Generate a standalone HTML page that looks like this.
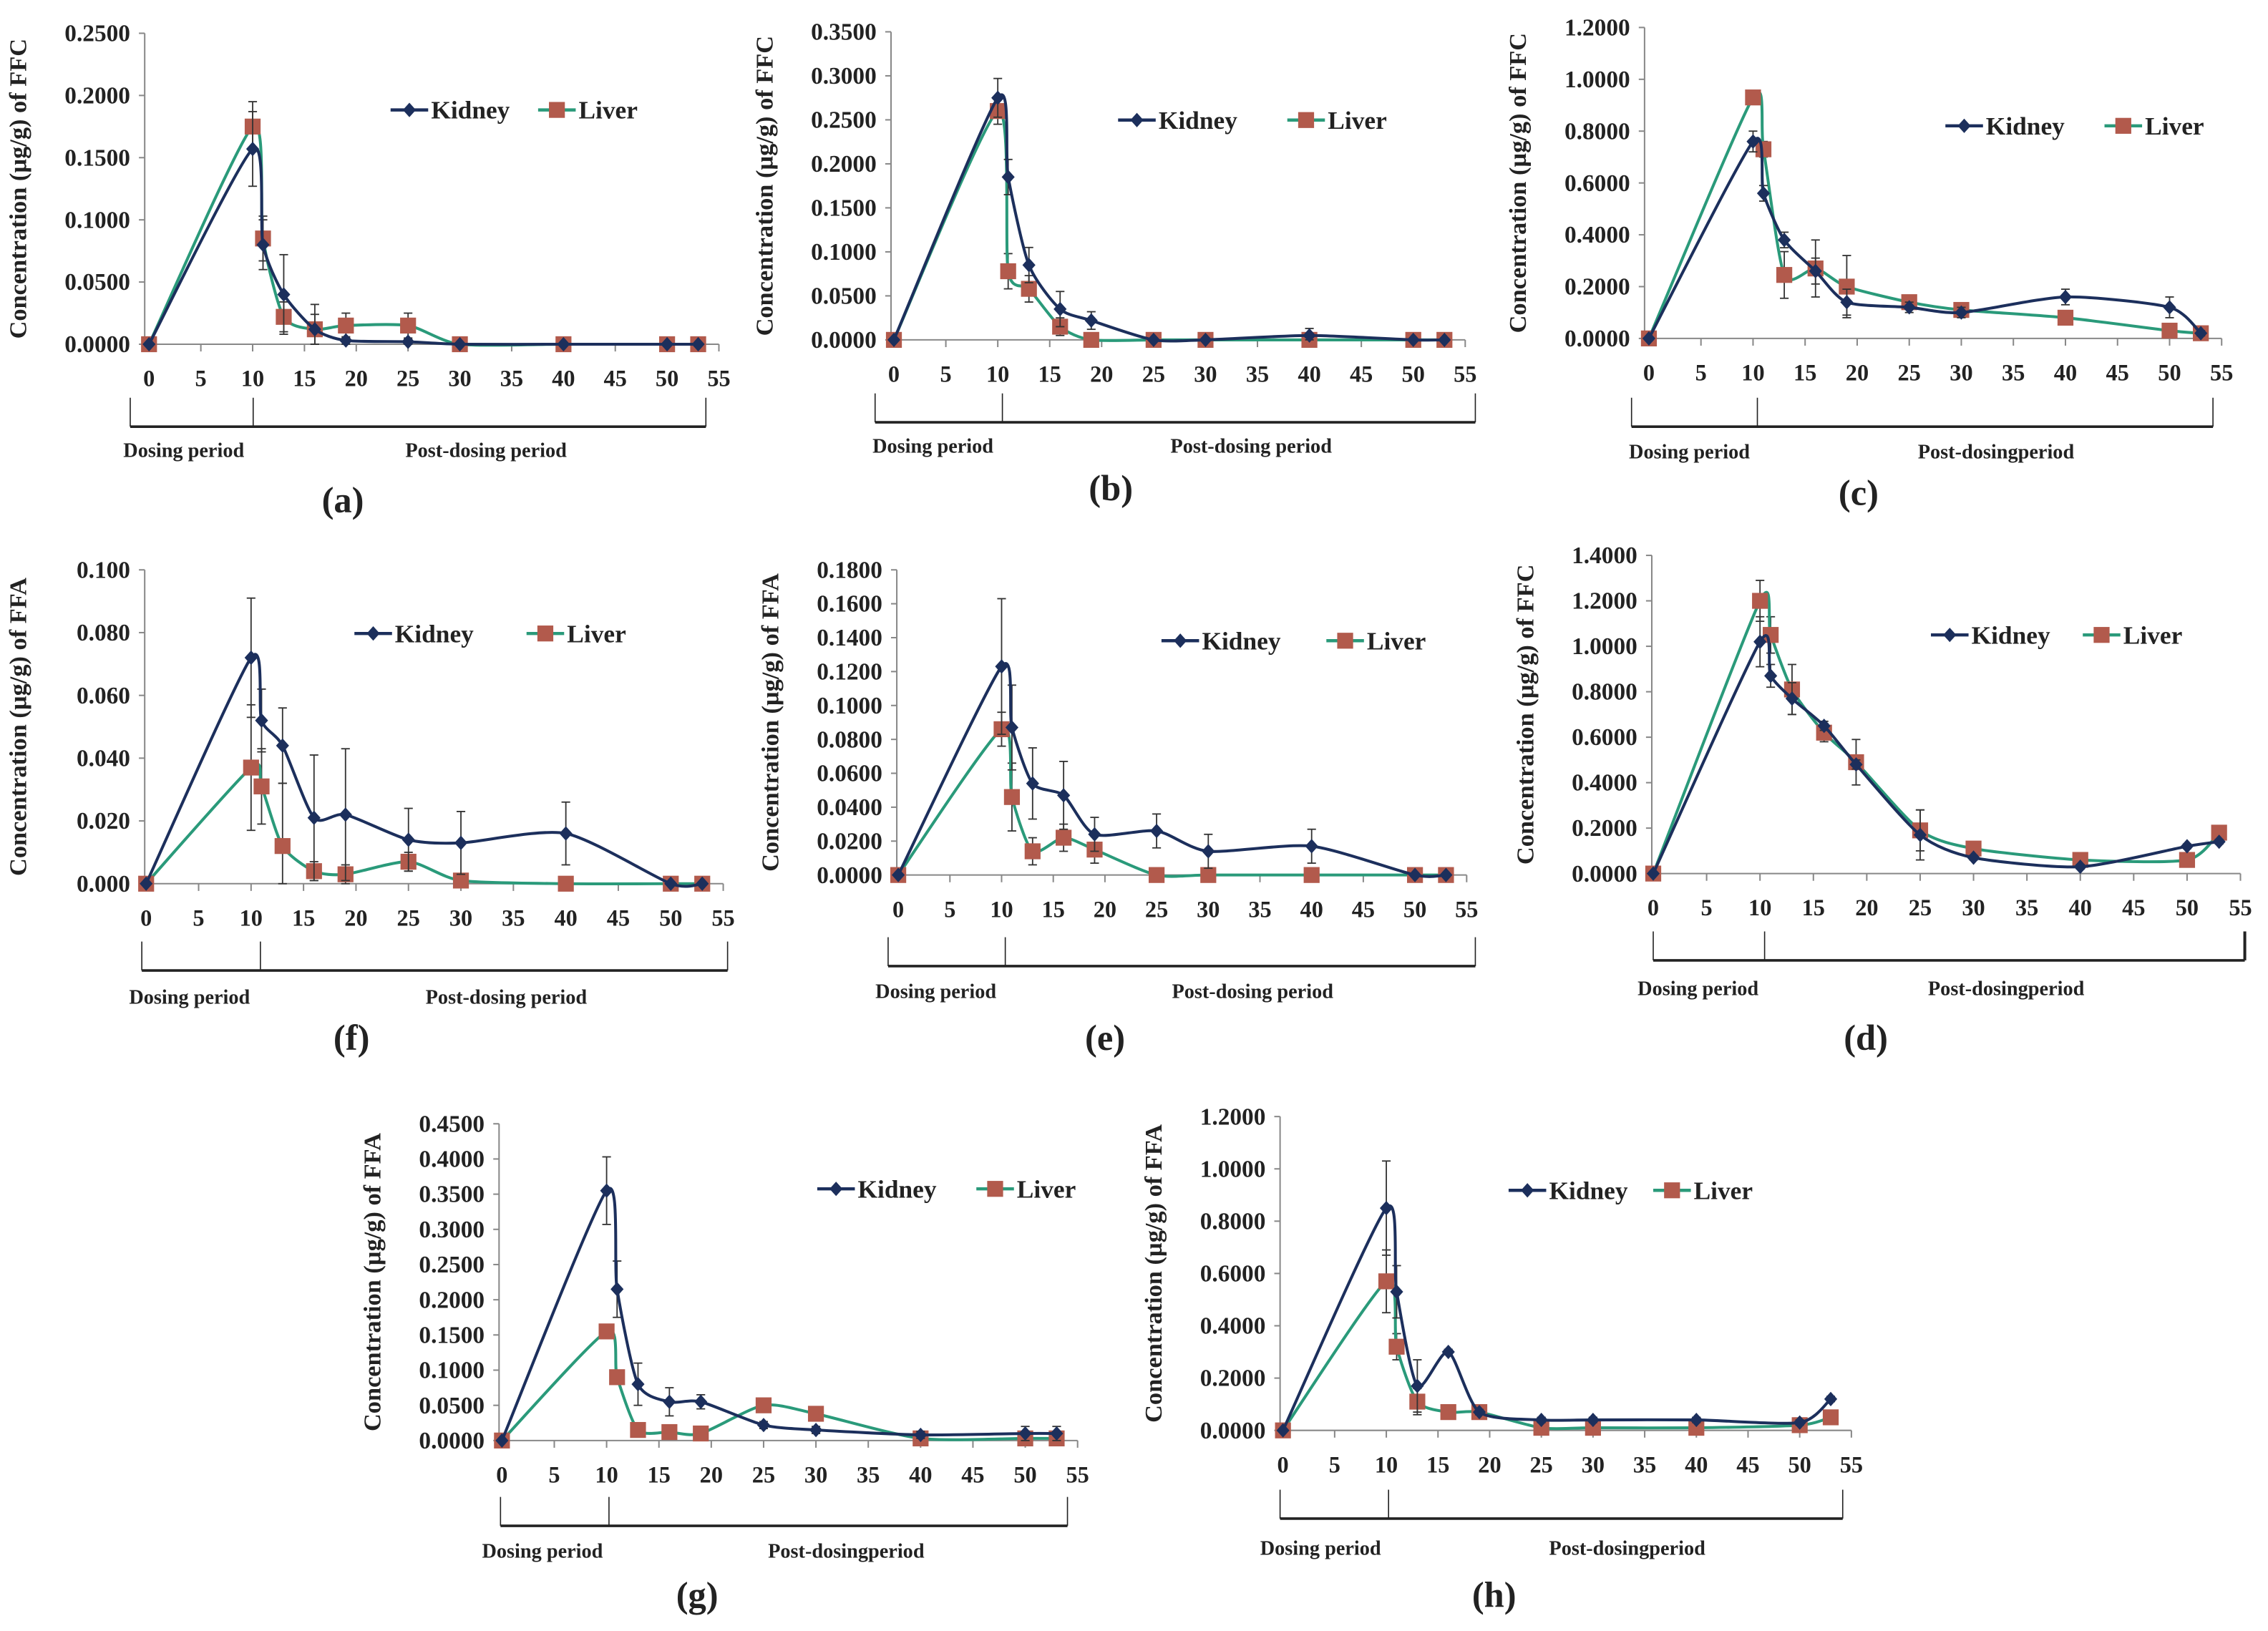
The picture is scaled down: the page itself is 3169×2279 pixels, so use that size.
<!DOCTYPE html>
<html><head><meta charset="utf-8">
<style>
html,body{margin:0;padding:0;background:#fff;}
svg{display:block;}
text{font-family:"Liberation Serif",serif;font-weight:bold;fill:#222;}
</style></head>
<body>
<svg id="fig" width="3169" height="2279" viewBox="0 0 1568 1127.7" xmlns="http://www.w3.org/2000/svg"></svg>
<script>
const days = [0,10,11,13,16,19,25,30,40,50,53];
const kidneyA = [0,0.157,0.080,0.040,0.012,0.003,0.002,0,0,0,0];
const liverA  = [0,0.175,0.085,0.022,0.012,0.015,0.015,0,0,0,0];
const kErrA = [0,0.030,0.020,0.032,0.012,0.003,0.002,0,0,0,0];
const lErrA = [0,0.020,0.018,0.012,0.020,0.010,0.010,0,0,0,0];
const kidneyB = [0,0.275,0.185,0.085,0.035,0.022,0,0,0.005,0,0];
const liverB  = [0,0.260,0.078,0.058,0.015,0,0,0,0,0,0];
const kErrB = [0,0.022,0.020,0.020,0.020,0.010,0,0,0.008,0,0];
const lErrB = [0,0.015,0.020,0.015,0.010,0,0,0,0,0,0];
const kidneyC = [0,0.76,0.56,0.38,0.26,0.14,0.12,0.10,0.16,0.12,0.02];
const liverC  = [0,0.93,0.73,0.245,0.27,0.20,0.14,0.11,0.08,0.03,0.02];
const kErrC = [0,0.04,0.03,0.03,0.05,0.05,0.02,0.02,0.03,0.04,0.01];
const lErrC = [0,0.02,0.03,0.09,0.11,0.12,0.02,0.02,0.01,0.01,0.01];
const kidneyD = [0,1.02,0.87,0.77,0.65,0.48,0.17,0.07,0.03,0.12,0.14];
const liverD  = [0,1.20,1.05,0.81,0.62,0.49,0.19,0.11,0.06,0.06,0.18];
const kErrD = [0,0.11,0.05,0.07,0.02,0.02,0.11,0.01,0.01,0.01,0.01];
const lErrD = [0,0.09,0.08,0.11,0.04,0.10,0.09,0.01,0.01,0.01,0.01];
const kidneyE = [0,0.123,0.087,0.054,0.047,0.024,0.026,0.014,0.017,0,0];
const liverE  = [0,0.086,0.046,0.014,0.022,0.015,0,0,0,0,0];
const kErrE = [0,0.040,0.025,0.021,0.020,0.010,0.010,0.010,0.010,0,0];
const lErrE = [0,0.010,0.020,0.008,0.008,0.008,0,0,0,0,0];
const kidneyF = [0,0.072,0.052,0.044,0.021,0.022,0.014,0.013,0.016,0,0];
const liverF  = [0,0.037,0.031,0.012,0.004,0.003,0.007,0.001,0,0,0];
const kErrF = [0,0.019,0.010,0.012,0.020,0.021,0.010,0.010,0.010,0,0];
const lErrF = [0,0.020,0.012,0.020,0.003,0.003,0.003,0,0,0,0];
const kidneyG = [0,0.355,0.215,0.080,0.055,0.055,0.022,0.015,0.008,0.010,0.010];
const liverG  = [0,0.155,0.090,0.015,0.012,0.010,0.050,0.038,0.003,0.003,0.003];
const kErrG = [0,0.048,0.040,0.030,0.020,0.010,0.005,0.005,0.005,0.010,0.010];
const lErrG = [0,0.005,0.005,0.005,0.005,0.005,0.005,0.005,0.005,0.010,0.010];
const kidneyH = [0,0.85,0.53,0.17,0.30,0.07,0.04,0.04,0.04,0.03,0.12];
const liverH  = [0,0.57,0.32,0.11,0.07,0.07,0.01,0.01,0.01,0.02,0.05];
const kErrH = [0,0.18,0.10,0.10,0.01,0.01,0.01,0.01,0.01,0.01,0.01];
const lErrH = [0,0.12,0.05,0.05,0.01,0.01,0.01,0.01,0.01,0.01,0.01];
const xTicks = [0,5,10,15,20,25,30,35,40,45,50,55];

const panels = [
 {id:'a',k:kidneyA,l:liverA,ke:kErrA,le:lErrA,ymax:0.25,step:0.05,dec:4,drug:'FFC',ax:100,x0:103,x1:497,yt:23,yb:238,br:[90,175,488],bry:295,lab:316,dp:127,pd:336,pdt:'Post-dosing period',cap:[237,354],leg:[270,372,76]},
 {id:'b',k:kidneyB,l:liverB,ke:kErrB,le:lErrB,ymax:0.35,step:0.05,dec:4,drug:'FFC',ax:616,x0:618,x1:1013,yt:22,yb:235,br:[605,693,1020],bry:292,lab:313,dp:645,pd:865,pdt:'Post-dosing period',cap:[768,346],leg:[773,890,83]},
 {id:'c',k:kidneyC,l:liverC,ke:kErrC,le:lErrC,ymax:1.2,step:0.2,dec:4,drug:'FFC',ax:1137,x0:1140,x1:1536,yt:19,yb:234,br:[1128,1215,1530],bry:295,lab:317,dp:1168,pd:1380,pdt:'Post-dosingperiod',cap:[1285,349],leg:[1345,1455,87]},
 {id:'f',k:kidneyF,l:liverF,ke:kErrF,le:lErrF,ymax:0.1,step:0.02,dec:3,drug:'FFA',ax:100,x0:101,x1:500,yt:394,yb:611,br:[98,180,503],bry:671,lab:694,dp:131,pd:350,pdt:'Post-dosing period',cap:[243,726],leg:[245,364,438]},
 {id:'e',k:kidneyE,l:liverE,ke:kErrE,le:lErrE,ymax:0.18,step:0.02,dec:4,drug:'FFA',ax:620,x0:621,x1:1014,yt:394,yb:605,br:[614,695,1020],bry:668,lab:690,dp:647,pd:866,pdt:'Post-dosing period',cap:[764,726],leg:[803,917,443]},
 {id:'d',k:kidneyD,l:liverD,ke:kErrD,le:lErrD,ymax:1.4,step:0.2,dec:4,drug:'FFC',ax:1142,x0:1143,x1:1549,yt:384,yb:604,br:[1143,1220,1552],bry:664,lab:688,dp:1174,pd:1387,pdt:'Post-dosingperiod',cap:[1290,726],leg:[1335,1440,439]},
 {id:'g',k:kidneyG,l:liverG,ke:kErrG,le:lErrG,ymax:0.45,step:0.05,dec:4,drug:'FFA',ax:345,x0:347,x1:745,yt:777,yb:996,br:[346,421,738],bry:1055,lab:1077,dp:375,pd:585,pdt:'Post-dosingperiod',cap:[482,1111],leg:[565,675,822]},
 {id:'h',k:kidneyH,l:liverH,ke:kErrH,le:lErrH,ymax:1.2,step:0.2,dec:4,drug:'FFA',ax:885,x0:887,x1:1280,yt:772,yb:989,br:[885,960,1274],bry:1050,lab:1075,dp:913,pd:1125,pdt:'Post-dosingperiod',cap:[1033,1111],leg:[1043,1143,823]}
];
const NS='http://www.w3.org/2000/svg';
const svg=document.getElementById('fig');
function mk(tag,attrs,parent,txt){const e=document.createElementNS(NS,tag);for(const k in attrs)e.setAttribute(k,attrs[k]);if(txt!==undefined)e.textContent=txt;parent.appendChild(e);return e;}
function spline(pts){let d='M'+pts[0][0]+','+pts[0][1];for(let i=0;i<pts.length-1;i++){const p0=pts[Math.max(0,i-1)],p1=pts[i],p2=pts[i+1],p3=pts[Math.min(pts.length-1,i+2)];const t=0.12;const c1=[p1[0]+(p2[0]-p0[0])*t,p1[1]+(p2[1]-p0[1])*t];const c2=[p2[0]-(p3[0]-p1[0])*t,p2[1]-(p3[1]-p1[1])*t];d+=' C'+c1[0]+','+c1[1]+' '+c2[0]+','+c2[1]+' '+p2[0]+','+p2[1];}return d;}
const KC='#1c2f5c', LC='#2a9a7a', SQ='#b25a4c';
panels.forEach(p=>{
 const g=mk('g',{},svg);
 
 
 const X=v=>p.x0+(v/55)*(p.x1-p.x0);
 const Y=v=>p.yb-(v/p.ymax)*(p.yb-p.yt);
 const ya=mk('line',{x1:p.ax,y1:p.yt,x2:p.ax,y2:p.yb,stroke:'#888','stroke-width':1},g);
 
 
 const xa=mk('line',{x1:p.ax,y1:p.yb,x2:p.x1,y2:p.yb,stroke:'#888','stroke-width':1},g);
 
 
 const n=Math.round(p.ymax/p.step);
 for(let i=0;i<=n;i++){const v=i*p.step;const y=Y(v);
  mk('line',{x1:p.ax-4,y1:y,x2:p.ax,y2:y,stroke:'#888'},g);
  const t=mk('text',{x:p.ax-10,y:y+5.5,'text-anchor':'end','font-size':16.5},g,v.toFixed(p.dec));
  
  }
 xTicks.forEach(v=>{const x=X(v);mk('line',{x1:x,y1:p.yb,x2:x,y2:p.yb+5,stroke:'#888'},g);
  const t=mk('text',{x:x,y:p.yb+29,'text-anchor':'middle','font-size':16},g,String(v));
  
  });
 const cy=(p.yt+p.yb)/2, tx=p.ax-82;
 const yt=mk('text',{x:tx,y:cy,'text-anchor':'middle','font-size':17,transform:'rotate(-90 '+tx+' '+cy+')'},g,'Concentration (µg/g) of '+p.drug);
 
 
 const b=mk('g',{stroke:'#222',fill:'none'},g);
 
 
 mk('line',{x1:p.br[0],y1:p.bry-20,x2:p.br[0],y2:p.bry,'stroke-width':0.8},b);
 mk('line',{x1:p.br[1],y1:p.bry-20,x2:p.br[1],y2:p.bry,'stroke-width':0.8},b);
 mk('line',{x1:p.br[2],y1:p.bry-20,x2:p.br[2],y2:p.bry,'stroke-width':p.id==='d'?2:0.8},b);
 mk('line',{x1:p.br[0],y1:p.bry,x2:p.br[2],y2:p.bry,'stroke-width':1.8},b);
 const t1=mk('text',{x:p.dp,y:p.lab,'text-anchor':'middle','font-size':14},g,'Dosing period');
 
 
 const t2=mk('text',{x:p.pd,y:p.lab,'text-anchor':'middle','font-size':14},g,p.pdt);
 
 
 const c=mk('text',{x:p.cap[0],y:p.cap[1],'text-anchor':'middle','font-size':25},g,'('+p.id+')');
 
 
 [[p.l,p.le,LC,'liver'],[p.k,p.ke,KC,'kidney']].forEach(([vals,errs,col,nm])=>{
  const pts=days.map((d,i)=>[X(d),Y(vals[i])]);
  const eb=mk('g',{stroke:'#333','stroke-width':0.9},g);
  
  
  days.forEach((d,i)=>{if(errs[i]>0){const x=X(d),y1=Y(vals[i]+errs[i]),y2=Y(Math.max(0,vals[i]-errs[i]));
   mk('line',{x1:x,y1:y1,x2:x,y2:y2},eb);mk('line',{x1:x-3,y1:y1,x2:x+3,y2:y1},eb);mk('line',{x1:x-3,y1:y2,x2:x+3,y2:y2},eb);}});
  const ln=mk('path',{d:spline(pts),fill:'none',stroke:col,'stroke-width':2},g);
  
  
  pts.forEach(pt=>{let m;
   if(nm==='liver'){m=mk('rect',{x:pt[0]-5.5,y:pt[1]-5.5,width:11,height:11,fill:SQ},g);}
   else{m=mk('path',{d:`M${pt[0]},${pt[1]-5} L${pt[0]+4.5},${pt[1]} L${pt[0]},${pt[1]+5} L${pt[0]-4.5},${pt[1]} Z`,fill:KC},g);}
   
   });
 });
 const lg=mk('g',{},g);
 
 
 const [kx,lx,ly]=p.leg;
 mk('line',{x1:kx,y1:ly,x2:kx+26,y2:ly,stroke:KC,'stroke-width':2.2},lg);
 mk('path',{d:`M${kx+13},${ly-5} L${kx+17.5},${ly} L${kx+13},${ly+5} L${kx+8.5},${ly} Z`,fill:KC},lg);
 const kt=mk('text',{x:kx+28,y:ly+6,'font-size':17.5},lg,'Kidney');
 
 
 mk('line',{x1:lx,y1:ly,x2:lx+26,y2:ly,stroke:LC,'stroke-width':2.2},lg);
 mk('rect',{x:lx+7.5,y:ly-5.5,width:11,height:11,fill:SQ},lg);
 const lt=mk('text',{x:lx+28,y:ly+6,'font-size':17.5},lg,'Liver');
 
 
});
</script>
</body></html>
